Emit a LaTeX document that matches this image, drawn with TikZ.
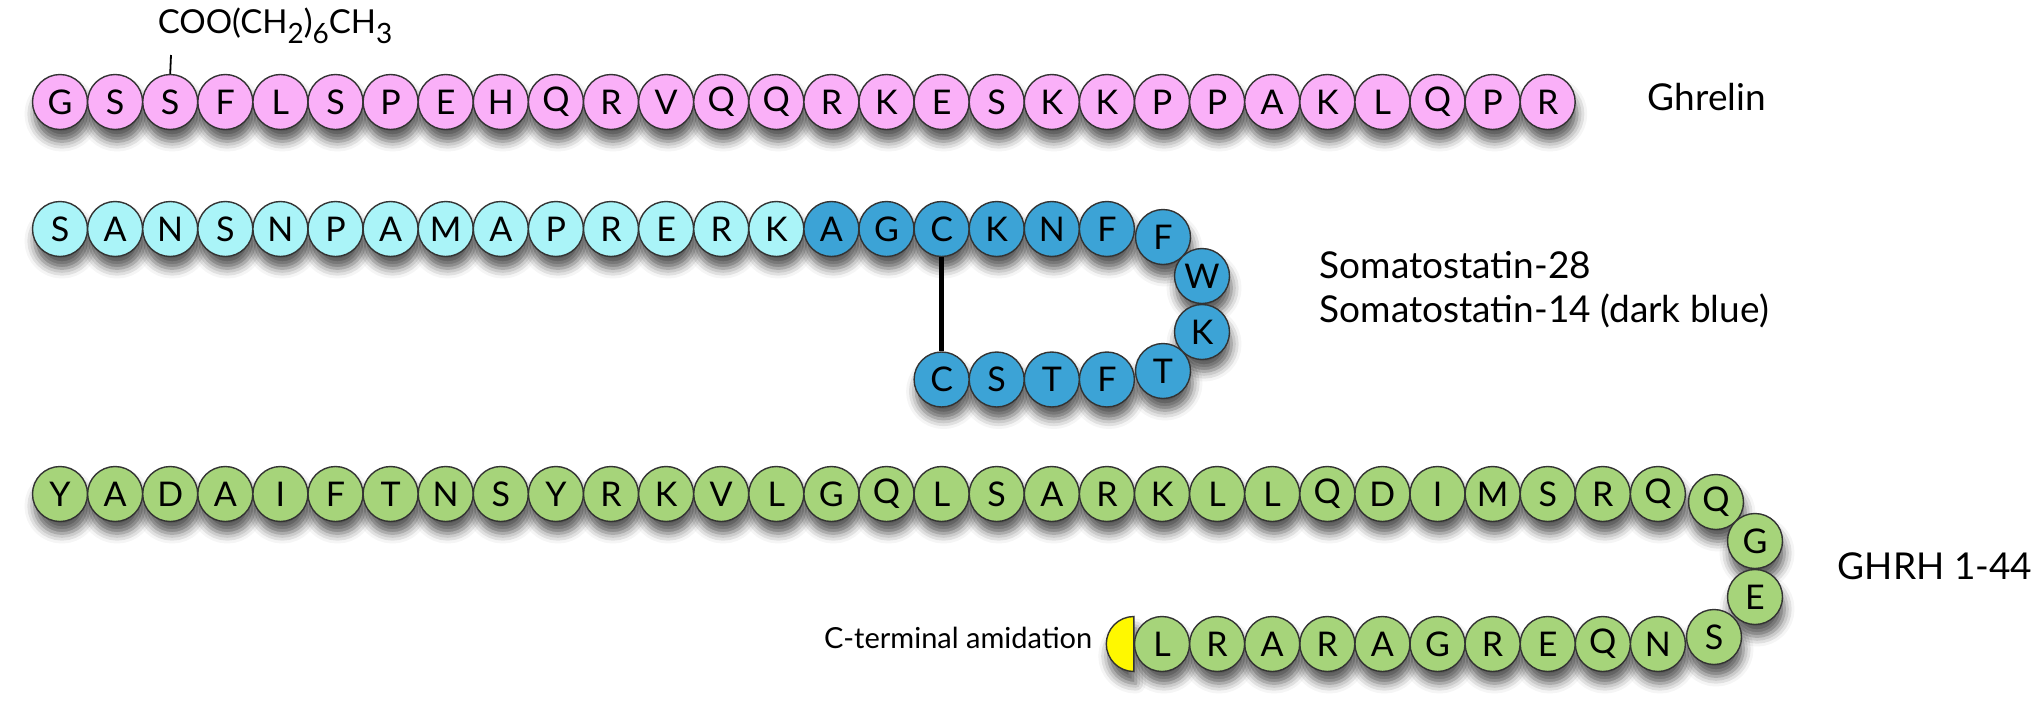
\documentclass[tikz,border=0pt]{standalone}
\usepackage{fontspec}
\setmainfont{Lato}
\usetikzlibrary{backgrounds,shadows.blur}

\definecolor{ghrelinpink}{RGB}{250,176,248}
\definecolor{sstlight}{RGB}{170,244,248}
\definecolor{sstdark}{RGB}{60,163,214}
\definecolor{ghrhgreen}{RGB}{166,212,122}
\definecolor{amideyellow}{RGB}{255,248,0}

\newcommand{\lowsub}[1]{\raisebox{-5pt}{\fontsize{14}{14}\selectfont #1}}

\tikzset{every picture/.style={line width=0.75pt}}
\tikzset{
  residue/.style={circle, draw=black!80, line width=0.7pt, minimum size=27.5pt, inner sep=0pt, font=\fontsize{17}{17}\selectfont},
  resshadow/.style={blur shadow={shadow xshift=1pt, shadow yshift=-6pt, shadow blur radius=5pt, shadow opacity=65}},
  peplabel/.style={anchor=base west, inner sep=0pt, font=\fontsize{18.5}{22}\selectfont},
  disulfide/.style={line width=2.4pt, black},
}

\begin{document}
\begin{tikzpicture}[x=0.5pt,y=0.5pt,yscale=-1]
	\useasboundingbox (0,0) rectangle (2044,713);

	% Ghrelin
	\foreach \aa [count=\i] in {G,S,S,F,L,S,P,E,H,Q,R,V,Q,Q,R,K,E,S,K,K,P,P,A,K,L,Q,P,R}
		\node[residue, fill=ghrelinpink] (g\i) at ({60+55.1*(\i-1)},102) {\aa};
	% octanoyl on Ser3
	\coordinate (octtick) at (171,55);
	\draw [line width=0.9pt] (g3.north) -- (octtick);
	\node [anchor=base west, inner sep=0pt, font=\fontsize{16.5}{16.5}\selectfont] (octanoyl) at (157,33) {COO(CH\lowsub{2})\lowsub{6}CH\lowsub{3}};

	% Somatostatin-28
	\foreach \aa [count=\i] in {S,A,N,S,N,P,A,M,A,P,R,E,R,K}
		\node[residue, fill=sstlight] (s\i) at ({60+55.1*(\i-1)},229) {\aa};
	\foreach \aa [count=\i from 15] in {A,G,C,K,N,F}
		\node[residue, fill=sstdark] (s\i) at ({60+55.1*(\i-1)},229) {\aa};
	\node[residue, fill=sstdark] (s21) at (1163,237) {F};
	\node[residue, fill=sstdark] (s22) at (1202,276) {W};
	\node[residue, fill=sstdark] (s23) at (1202,332) {K};
	\node[residue, fill=sstdark] (s24) at (1163,371) {T};
	\foreach \aa [count=\i from 25] in {F,T,S,C}
		\node[residue, fill=sstdark] (s\i) at ({60+55.1*(44-\i)},379.5) {\aa};
	%Straight Lines: disulfide bridge
	\draw [disulfide] (s17.south) -- (s28.north);

	% GHRH 1-44
	\foreach \aa [count=\i] in {Y,A,D,A,I,F,T,N,S,Y,R,K,V,L,G,Q,L,S,A,R,K,L,L,Q,D,I,M,S,R,Q}
		\node[residue, fill=ghrhgreen] (h\i) at ({60+55.1*(\i-1)},494) {\aa};
	\node[residue, fill=ghrhgreen] (h31) at (1716,502) {Q};
	\node[residue, fill=ghrhgreen] (h32) at (1755,541) {G};
	\node[residue, fill=ghrhgreen] (h33) at (1755,597) {E};
	\node[residue, fill=ghrhgreen] (h34) at (1714,637) {S};
	\foreach \aa [count=\i from 35] in {N,Q,E,R,G,A,R,A,R,L}
		\node[residue, fill=ghrhgreen] (h\i) at ({60+55.1*(64-\i)},644) {\aa};
	%Shape: half disc, C-terminal amide
	\draw [fill=amideyellow, draw=black!80, line width=0.7pt] (h44.west) ++(0,-27.5) arc[start angle=270, end angle=90, radius=27.5] -- cycle;

	% shadows
	\begin{scope}[on background layer]
		\foreach \i in {1,...,28} {
			\path [resshadow] (g\i.center) circle[radius=13.75pt];
			\path [resshadow] (s\i.center) circle[radius=13.75pt];
		}
		\foreach \i in {1,...,44}
			\path [resshadow] (h\i.center) circle[radius=13.75pt];
		\path [resshadow] (h44.west) ++(0,-27.5) arc[start angle=270, end angle=90, radius=27.5] -- cycle;
	\end{scope}

	% Text Node
	\node [peplabel] (lblghrelin) at (1647,110) {Ghrelin};
	% Text Node
	\node [peplabel] (lblsst28) at (1319,278) {Somatostatin-28};
	% Text Node
	\node [peplabel] (lblsst14) at (1319,322) {Somatostatin-14 (dark blue)};
	% Text Node
	\node [peplabel] (lblghrh) at (1837,579) {GHRH 1-44};
	% Text Node
	\node [anchor=base east, inner sep=0pt, font=\fontsize{14.5}{14.5}\selectfont] (lblamide) at (1093,648) {C-terminal amidation};

\end{tikzpicture}
\end{document}
